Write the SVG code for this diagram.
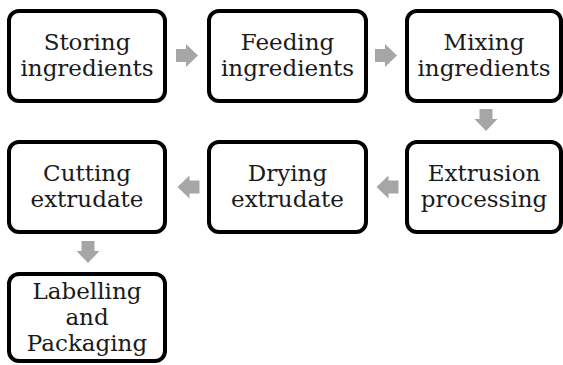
<svg xmlns="http://www.w3.org/2000/svg" xmlns:xlink="http://www.w3.org/1999/xlink" width="563" height="365" viewBox="0 0 563 365">
  <style>
    .box { fill: #ffffff; stroke: #000000; stroke-width: 4; }
    .lbl { font-family: "DejaVu Serif", "Liberation Serif", serif; font-size: 23px; fill: #1a1a1a; text-anchor: middle; }
    .arr { fill: #a6a6a6; }
  </style>
  <defs>
    <path id="arrow" d="M -11,-6.5 H -1 V -11.5 L 11,0 L -1,11.5 V 6.5 H -11 Z"/>
  </defs>
  <rect x="0" y="0" width="563" height="365" fill="#ffffff"/>

  <g id="connectors" class="arr">
    <use xlink:href="#arrow" href="#arrow" transform="translate(187,55.5)"/>
    <use xlink:href="#arrow" href="#arrow" transform="translate(386,55.5)"/>
    <use xlink:href="#arrow" href="#arrow" transform="translate(486,120) rotate(90)"/>
    <use xlink:href="#arrow" href="#arrow" transform="translate(387.5,187) rotate(180)"/>
    <use xlink:href="#arrow" href="#arrow" transform="translate(188.5,187) rotate(180)"/>
    <use xlink:href="#arrow" href="#arrow" transform="translate(88,252) rotate(90)"/>
  </g>

  <g id="storing">
    <rect class="box" x="9" y="11" width="156" height="90" rx="10"/>
    <text class="lbl" x="87" y="50">Storing</text>
    <text class="lbl" x="87" y="76">ingredients</text>
  </g>
  <g id="feeding">
    <rect class="box" x="209" y="11" width="157" height="90" rx="10"/>
    <text class="lbl" x="287.5" y="50">Feeding</text>
    <text class="lbl" x="287.5" y="76">ingredients</text>
  </g>
  <g id="mixing">
    <rect class="box" x="407" y="11" width="154" height="90" rx="10"/>
    <text class="lbl" x="484" y="50">Mixing</text>
    <text class="lbl" x="484" y="76">ingredients</text>
  </g>
  <g id="extrusion">
    <rect class="box" x="407" y="142" width="154" height="90" rx="10"/>
    <text class="lbl" x="484" y="181">Extrusion</text>
    <text class="lbl" x="484" y="207">processing</text>
  </g>
  <g id="drying">
    <rect class="box" x="209" y="142" width="157" height="90" rx="10"/>
    <text class="lbl" x="287.5" y="181">Drying</text>
    <text class="lbl" x="287.5" y="207">extrudate</text>
  </g>
  <g id="cutting">
    <rect class="box" x="9" y="142" width="156" height="90" rx="10"/>
    <text class="lbl" x="87" y="181">Cutting</text>
    <text class="lbl" x="87" y="207">extrudate</text>
  </g>
  <g id="labelling">
    <rect class="box" x="9" y="274" width="156" height="87" rx="10"/>
    <text class="lbl" x="87" y="299">Labelling</text>
    <text class="lbl" x="87" y="325">and</text>
    <text class="lbl" x="87" y="351">Packaging</text>
  </g>
</svg>
